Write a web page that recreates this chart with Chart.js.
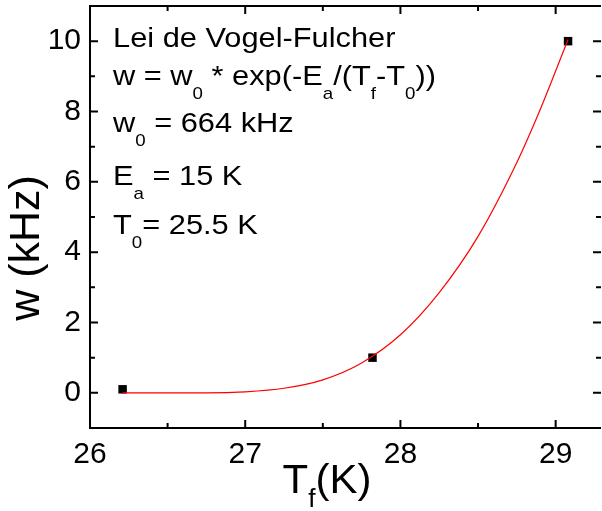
<!DOCTYPE html>
<html>
<head>
<meta charset="utf-8">
<script src="https://cdn.jsdelivr.net/npm/chart.js@4/dist/chart.umd.min.js"></script>
<style>
  html, body { margin: 0; padding: 0; background: #fff; }
  #wrap { width: 602px; height: 511px; position: relative; }
</style>
</head>
<body>
<div id="wrap"><canvas id="vfChart"></canvas></div>
<script>
// measured points (T_f in K, w in kHz)
const tempPoints = [26.21, 27.82, 29.08];
const ratePoints = [0.1, 1.0, 10.0];

// red fit curve
const fitTemps = [26.21, 26.5, 26.75, 27.0, 27.25, 27.5, 27.75, 28.0, 28.25, 28.5, 28.75, 28.9, 29.0, 29.08];
const fitRates = [0.0, 0.0, 0.0, 0.03, 0.13, 0.37, 0.85, 1.65, 2.85, 4.45, 6.55, 8.05, 9.15, 10.05];

// axes
const xMajorTicks = [26, 27, 28, 29];
const xMinorTicks = [26.5, 27.5, 28.5];
const yMajorTicks = [0, 2, 4, 6, 8, 10];
const yMinorTicks = [1, 3, 5, 7, 9];

const FONT = '"Liberation Sans", Arial, sans-serif';

// annotation lines: [text, isSubscript]
const noteLines = [
  [['Lei de Vogel-Fulcher', false]],
  [['w = w', false], ['0', true], [' * exp(-E', false], ['a', true], ['/(T', false], ['f', true], ['-T', false], ['0', true], ['))', false]],
  [['w', false], ['0', true], [' = 664 kHz', false]],
  [['E', false], ['a', true], [' = 15 K', false]],
  [['T', false], ['0', true], ['= 25.5 K', false]]
];
const noteBaselines = [47, 85, 132, 185, 234];

function drawRich(ctx, x, y, parts, size, subSize, subDrop, stretch) {
  ctx.save();
  ctx.translate(x, y);
  ctx.scale(stretch, 1);
  let cx = 0;
  parts.forEach(([text, sub]) => {
    ctx.font = (sub ? subSize : size) + 'px ' + FONT;
    ctx.fillText(text, cx, sub ? subDrop : 0);
    cx += ctx.measureText(text).width;
  });
  ctx.restore();
  return cx * stretch;
}

const framePlugin = {
  id: 'frame',
  afterDraw(chart) {
    const ctx = chart.ctx;
    const a = chart.chartArea;
    const xs = chart.scales.x;
    const ys = chart.scales.y;
    const rightAxis = a.right + 5;

    ctx.save();
    ctx.strokeStyle = '#000';
    ctx.lineWidth = 2;
    ctx.beginPath();
    ctx.moveTo(rightAxis, a.top);
    ctx.lineTo(a.left, a.top);
    ctx.lineTo(a.left, a.bottom);
    ctx.lineTo(rightAxis, a.bottom);
    ctx.stroke();

    // inward ticks on all four sides
    ctx.beginPath();
    const xTick = (v, len) => {
      const px = xs.getPixelForValue(v);
      ctx.moveTo(px, a.bottom); ctx.lineTo(px, a.bottom - len);
      ctx.moveTo(px, a.top); ctx.lineTo(px, a.top + len);
    };
    const yTick = (v, len) => {
      const py = ys.getPixelForValue(v);
      ctx.moveTo(a.left, py); ctx.lineTo(a.left + len, py);
      ctx.moveTo(rightAxis, py); ctx.lineTo(rightAxis - len, py);
    };
    xMajorTicks.forEach(v => xTick(v, 8));
    xMinorTicks.forEach(v => xTick(v, 5));
    yMajorTicks.forEach(v => yTick(v, 8));
    yMinorTicks.forEach(v => yTick(v, 5));
    ctx.stroke();

    ctx.fillStyle = '#000';
    ctx.textBaseline = 'alphabetic';
    ctx.textAlign = 'left';
    noteLines.forEach((parts, i) => {
      drawRich(ctx, 113, noteBaselines[i], parts, 28, 17, 14, 1.1);
    });

    // x title T_f(K)
    const xParts = [['T', false], ['f', true], ['(K)', false]];
    ctx.save();
    ctx.globalAlpha = 0;
    const w = drawRich(ctx, 0, 0, xParts, 40, 25, 14, 1.05);
    ctx.restore();
    drawRich(ctx, 327 - w / 2, 493, xParts, 40, 25, 14, 1.05);

    // y title
    ctx.save();
    ctx.translate(39, 248);
    ctx.rotate(-Math.PI / 2);
    ctx.font = '43px ' + FONT;
    ctx.textAlign = 'center';
    ctx.fillText('w (kHz)', 0, 0);
    ctx.restore();

    ctx.restore();
  }
};

new Chart(document.getElementById('vfChart'), {
  type: 'scatter',
  data: {
    datasets: [{
      label: 'fit',
      data: fitTemps.map((t, i) => ({ x: t, y: fitRates[i] })),
      showLine: true,
      borderColor: '#ff0000',
      borderWidth: 1.2,
      pointRadius: 0,
      cubicInterpolationMode: 'monotone',
      order: 0
    }, {
      label: 'data',
      data: tempPoints.map((t, i) => ({ x: t, y: ratePoints[i] })),
      pointStyle: 'rect',
      pointRadius: 6,
      pointBorderWidth: 0,
      backgroundColor: '#000',
      borderColor: '#000',
      order: 1
    }]
  },
  options: {
    responsive: true,
    maintainAspectRatio: false,
    animation: false,
    layout: { padding: { top: 5, right: 0, left: 0, bottom: 0 } },
    plugins: {
      legend: { display: false },
      tooltip: { enabled: false }
    },
    scales: {
      x: {
        type: 'linear',
        min: 26,
        max: 29.26,
        grid: { display: false },
        border: { display: false },
        afterBuildTicks: (scale) => { scale.ticks = xMajorTicks.map(v => ({ value: v })); },
        afterFit: (scale) => {
          scale.height = 83;
          scale.paddingLeft = 0;
          scale.paddingRight = 0;
        },
        ticks: {
          color: '#000',
          padding: 1,
          font: { family: FONT, size: 30 },
          callback: (value) => String(value)
        }
      },
      y: {
        type: 'linear',
        min: -1,
        max: 11,
        grid: { display: false },
        border: { display: false },
        afterBuildTicks: (scale) => { scale.ticks = yMajorTicks.map(v => ({ value: v })); },
        afterFit: (scale) => {
          scale.width = 90;
          scale.paddingTop = 0;
          scale.paddingBottom = 0;
        },
        ticks: {
          color: '#000',
          padding: 1,
          font: { family: FONT, size: 30 },
          callback: (value) => String(value)
        }
      }
    }
  },
  plugins: [framePlugin]
});
</script>
</body>
</html>
